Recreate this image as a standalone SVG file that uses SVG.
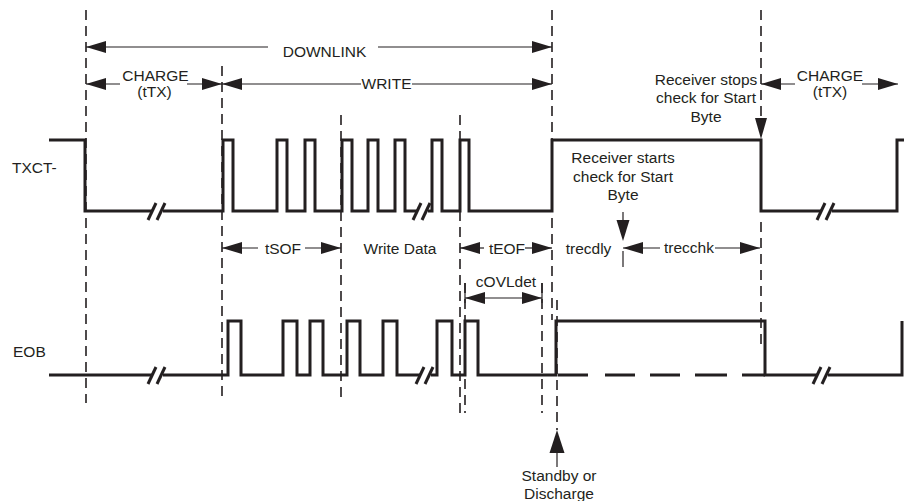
<svg xmlns="http://www.w3.org/2000/svg" width="904" height="501" viewBox="0 0 904 501">
<style>
text{font-family:"Liberation Sans",Arial,sans-serif;font-size:15.5px;fill:#231f20}
.m{text-anchor:middle}
.wave{fill:none;stroke:#231f20;stroke-width:3;stroke-linejoin:miter}
.dash{fill:none;stroke:#231f20;stroke-width:1.6;stroke-dasharray:10 6}
.arr{fill:none;stroke:#231f20;stroke-width:1.2;marker-end:url(#ah)}
.ln{fill:none;stroke:#231f20;stroke-width:1.2}
.head{fill:#231f20}
.brk{stroke:#231f20;stroke-width:3;stroke-linecap:butt}
.gap{fill:#fff}
</style>
<defs>
<marker id="ah" viewBox="0 0 20 12" refX="20" refY="6" markerWidth="20" markerHeight="12" markerUnits="userSpaceOnUse" orient="auto">
<path d="M0,0 L20,6 L0,12 z" fill="#231f20"/>
</marker>
</defs>
<rect width="904" height="501" fill="#fff"/>

<g id="gridlines">
<line class="dash" x1="86" y1="10" x2="86" y2="403"/>
<line class="dash" x1="222" y1="66" x2="222" y2="398"/>
<line class="dash" x1="341" y1="115" x2="341" y2="403"/>
<line class="dash" x1="460" y1="115" x2="460" y2="413"/>
<line class="dash" x1="465" y1="283" x2="465" y2="413"/>
<line class="dash" x1="542" y1="283" x2="542" y2="413"/>
<line class="dash" x1="552" y1="10" x2="552" y2="320"/>
<line class="dash" x1="557" y1="300" x2="557" y2="430"/>
<line class="dash" x1="761" y1="10" x2="761" y2="118"/>
<line class="dash" x1="761" y1="222" x2="761" y2="345"/>
<line class="ln" x1="623" y1="251" x2="623" y2="267" stroke-width="1.6"/>
</g>

<g id="txct">
<text x="12" y="173">TXCT-</text>
<path class="wave" d="M49,140 H85 V211 H223 V140 H233 V211 H277 V140 H287 V211 H305 V140 H315 V211 H342 V140 H352 V211 H368 V140 H378 V211 H395 V140 H405 V211 H432 V140 H442 V211 H460 V140 H469 V211 H552 V140 H761 V211 H897 V140 H904"/>
<rect class="gap" x="152" y="205" width="11" height="12"/>
<line class="brk" x1="148" y1="220" x2="156" y2="203"/>
<line class="brk" x1="157" y1="220" x2="165" y2="203"/>
<rect class="gap" x="417" y="205" width="11" height="12"/>
<line class="brk" x1="413" y1="220" x2="421" y2="203"/>
<line class="brk" x1="422" y1="220" x2="430" y2="203"/>
<rect class="gap" x="821" y="205" width="11" height="12"/>
<line class="brk" x1="817" y1="220" x2="825" y2="203"/>
<line class="brk" x1="826" y1="220" x2="834" y2="203"/>
</g>

<g id="eob">
<text x="13" y="357">EOB</text>
<path class="wave" d="M49,375 H228 V321 H241 V375 H283 V321 H297 V375 H310 V321 H323 V375 H347 V321 H360 V375 H383 V321 H397 V375 H437 V321 H452 V375 H465 V321 H478 V375 H556 V321 H765 V375 H902 V321"/>
<path d="M558,375 H588 M605,375 H635 M650,375 H680 M695,375 H727 M742,375 H765" stroke="#231f20" stroke-width="3" fill="none"/>
<rect class="gap" x="152" y="369" width="11" height="12"/>
<line class="brk" x1="148" y1="384" x2="156" y2="367"/>
<line class="brk" x1="157" y1="384" x2="165" y2="367"/>
<rect class="gap" x="420" y="369" width="11" height="12"/>
<line class="brk" x1="416" y1="384" x2="424" y2="367"/>
<line class="brk" x1="425" y1="384" x2="433" y2="367"/>
<rect class="gap" x="817" y="369" width="11" height="12"/>
<line class="brk" x1="813" y1="384" x2="821" y2="367"/>
<line class="brk" x1="822" y1="384" x2="830" y2="367"/>
</g>

<g id="connectors">
<line class="arr" x1="268" y1="47" x2="86" y2="47"/>
<line class="arr" x1="378" y1="47" x2="552" y2="47"/>
<line class="arr" x1="120" y1="84" x2="86" y2="84"/>
<line class="arr" x1="187" y1="84" x2="222" y2="84"/>
<line class="arr" x1="361" y1="84" x2="222" y2="84"/>
<line class="arr" x1="412" y1="84" x2="552" y2="84"/>
<line class="arr" x1="795" y1="84" x2="761" y2="84"/>
<line class="arr" x1="862" y1="84" x2="898" y2="84"/>
<line class="arr" x1="258" y1="248" x2="222" y2="248"/>
<line class="arr" x1="305" y1="248" x2="341" y2="248"/>
<line class="arr" x1="484" y1="248" x2="460" y2="248"/>
<line class="arr" x1="525" y1="248" x2="552" y2="248"/>
<line class="arr" x1="660" y1="248" x2="623" y2="248"/>
<line class="arr" x1="715" y1="248" x2="760" y2="248"/>
<line class="arr" x1="500" y1="298" x2="465" y2="298"/>
<line class="arr" x1="500" y1="298" x2="542" y2="298"/>
<line class="ln" x1="465" y1="283" x2="465" y2="303"/>
<line class="ln" x1="542" y1="283" x2="542" y2="303"/>
<polygon class="head" points="755,118 767,118 761,139"/>
<line class="ln" x1="623" y1="212" x2="623" y2="221"/>
<polygon class="head" points="616.5,220 629.5,220 623,241"/>
<line class="ln" x1="557" y1="450" x2="557" y2="467"/>
<polygon class="head" points="549.5,453 564.5,453 557,430"/>
</g>

<g id="labels">
<text class="m" x="324.5" y="57">DOWNLINK</text>
<text class="m" x="155.5" y="81">CHARGE</text>
<text class="m" x="154.5" y="97">(tTX)</text>
<text class="m" x="386.5" y="89">WRITE</text>
<text class="m" x="830" y="81">CHARGE</text>
<text class="m" x="830" y="97">(tTX)</text>
<text class="m" x="706" y="85">Receiver stops</text>
<text class="m" x="706" y="103">check for Start</text>
<text class="m" x="706" y="122">Byte</text>
<text class="m" x="623" y="163">Receiver starts</text>
<text class="m" x="623" y="182">check for Start</text>
<text class="m" x="623" y="200">Byte</text>
<text class="m" x="283" y="254">tSOF</text>
<text class="m" x="400" y="254">Write Data</text>
<text class="m" x="507" y="254">tEOF</text>
<text class="m" x="588.5" y="254">trecdly</text>
<text class="m" x="689" y="253">trecchk</text>
<text class="m" x="506" y="287">cOVLdet</text>
<text class="m" x="559" y="481">Standby or</text>
<text class="m" x="559" y="499">Discharge</text>
</g>
</svg>
